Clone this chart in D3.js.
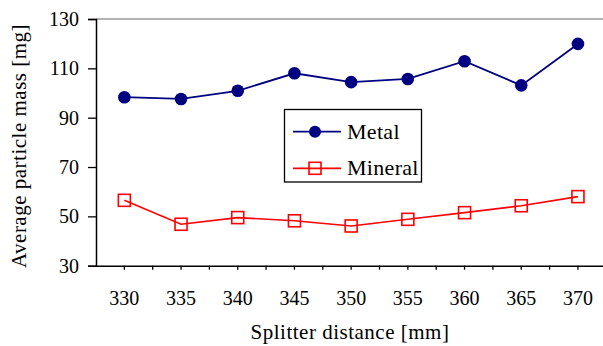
<!DOCTYPE html>
<html>
<head>
<meta charset="utf-8">
<script src="https://cdn.jsdelivr.net/npm/d3@7"></script>
<style>
  html, body { margin: 0; padding: 0; background: #fff; }
  svg { display: block; }
</style>
</head>
<body>
<svg id="chart" width="603" height="346"></svg>
<script>
// Splitter distance categories (mm)
const distances = ["330", "335", "340", "345", "350", "355", "360", "365", "370"];
// Average particle mass (mg) per series
const metalValues   = [98.3, 97.6, 100.9, 108.0, 104.4, 105.7, 112.9, 103.1, 119.9];
const mineralValues = [56.5, 46.8, 49.5, 48.2, 46.1, 48.8, 51.5, 54.3, 58.0];
const yTicks = [30, 50, 70, 90, 110, 130];
const seriesNames = ["Metal", "Mineral"];

const FONT = "Liberation Serif";
const svg = d3.select("#chart");
const plotLeft = 96, plotTop = 19, plotBottom = 265.7, band = 56.7;

const x = d3.scaleBand().domain(distances).range([plotLeft, plotLeft + band * distances.length]);
const y = d3.scaleLinear().domain([30, 130]).range([plotBottom, plotTop]);

// Top frame line of the plot area
svg.append("line")
  .attr("x1", plotLeft).attr("x2", plotLeft + band * distances.length)
  .attr("y1", y(130)).attr("y2", y(130))
  .attr("stroke", "#999").attr("stroke-width", 1.3);

// Y axis
const yAxis = svg.append("g")
  .attr("transform", `translate(${plotLeft},0)`)
  .call(d3.axisLeft(y).tickValues(yTicks).tickSize(8).tickPadding(9).tickFormat(d3.format("d")));
yAxis.select(".domain").attr("stroke", "#000").attr("stroke-width", 1.5);
yAxis.selectAll(".tick line").attr("stroke", "#000").attr("stroke-width", 1.3);
yAxis.selectAll("text").style("font-family", FONT).style("font-size", "20px").attr("fill", "#000");

// X axis: labels at category centres, ticks at centres and boundaries
const xAxis = svg.append("g")
  .attr("transform", `translate(0,${plotBottom})`)
  .call(d3.axisBottom(x).tickSize(4).tickSizeOuter(0).tickPadding(21));
xAxis.select(".domain").attr("stroke", "#000").attr("stroke-width", 1.5);
xAxis.selectAll(".tick line").attr("stroke", "#000").attr("stroke-width", 1.3);
xAxis.selectAll("text").style("font-family", FONT).style("font-size", "20px").attr("fill", "#000");
xAxis.selectAll(".bound")
  .data(distances)
  .join("line")
  .attr("class", "bound")
  .attr("x1", d => x(d) + band)
  .attr("x2", d => x(d) + band)
  .attr("y1", 0).attr("y2", 4)
  .attr("stroke", "#000").attr("stroke-width", 1.3);

// Axis titles
svg.append("text")
  .attr("x", 350).attr("y", 339)
  .attr("text-anchor", "middle")
  .style("font-family", FONT).style("font-size", "21px").style("letter-spacing", "0.5px")
  .text("Splitter distance [mm]");
svg.append("text")
  .attr("transform", "translate(26,146) rotate(-90)")
  .attr("text-anchor", "middle")
  .style("font-family", FONT).style("font-size", "21px").style("letter-spacing", "0.5px")
  .text("Average particle mass [mg]");

const cx = d => x(d) + x.bandwidth() / 2;
const line = d3.line().x((v, i) => cx(distances[i])).y(v => y(v));

// Metal series
svg.append("path").datum(metalValues)
  .attr("d", line).attr("fill", "none")
  .attr("stroke", "#000080").attr("stroke-width", 1.8);
svg.selectAll(".metal").data(metalValues).join("circle")
  .attr("class", "metal")
  .attr("cx", (v, i) => cx(distances[i])).attr("cy", v => y(v))
  .attr("r", 6.3).attr("fill", "#000080");

// Mineral series
svg.append("path").datum(mineralValues)
  .attr("d", line).attr("fill", "none")
  .attr("stroke", "#ff0000").attr("stroke-width", 1.6);
svg.selectAll(".mineral").data(mineralValues).join("rect")
  .attr("class", "mineral")
  .attr("x", (v, i) => cx(distances[i]) - 6).attr("y", v => y(v) - 6)
  .attr("width", 12).attr("height", 12)
  .attr("fill", "none").attr("stroke", "#ff0000").attr("stroke-width", 1.6);

// Legend
const lg = svg.append("g");
lg.append("rect").attr("x", 284.5).attr("y", 109.5).attr("width", 137).attr("height", 72.5)
  .attr("fill", "#fff").attr("stroke", "#000").attr("stroke-width", 1.3);
const rows = [131.7, 168.3];
seriesNames.forEach((name, i) => {
  const color = i === 0 ? "#000080" : "#ff0000";
  lg.append("line").attr("x1", 293).attr("x2", 341).attr("y1", rows[i]).attr("y2", rows[i])
    .attr("stroke", color).attr("stroke-width", 1.8);
  if (i === 0) {
    lg.append("circle").attr("cx", 315).attr("cy", rows[i]).attr("r", 6).attr("fill", color);
  } else {
    lg.append("rect").attr("x", 309).attr("y", rows[i] - 6).attr("width", 12).attr("height", 12)
      .attr("fill", "none").attr("stroke", color).attr("stroke-width", 1.6);
  }
  lg.append("text").attr("x", 347).attr("y", rows[i] + 7)
    .style("font-family", FONT).style("font-size", "22px").style("letter-spacing", "0.3px")
    .text(name);
});
</script>
</body>
</html>
